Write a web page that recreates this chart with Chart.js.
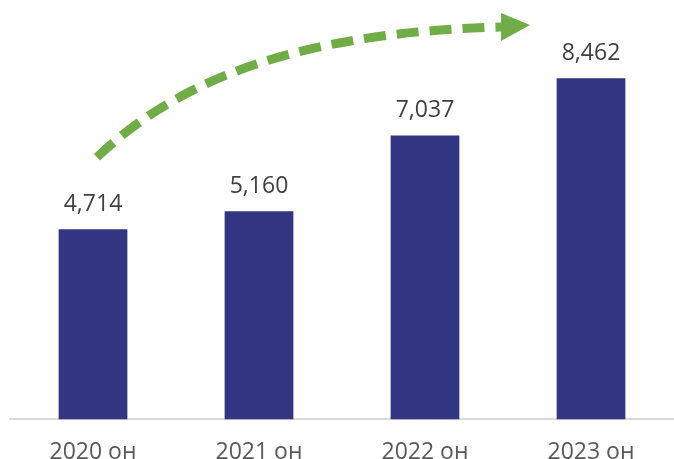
<!DOCTYPE html>
<html lang="mn">
<head>
    <meta charset="UTF-8">
    <title>2020-2023 он</title>
    <style>
        body {
            margin: 0;
            padding: 0;
            background: #ffffff;
        }
        #chart-container {
            width: 674px;
            height: 459px;
        }
    </style>
</head>
<body>
    <div id="chart-container">
        <canvas id="barChart"></canvas>
    </div>

    <script src="https://cdn.jsdelivr.net/npm/chart.js"></script>
    <script>
        const categories = ['2020 он', '2021 он', '2022 он', '2023 он'];
        const values = [4714, 5160, 7037, 8462];

        const fontFamily = '"Open Sans", Lato, sans-serif';

        // 棒の上に数値を表示
        const valueLabels = {
            id: 'valueLabels',
            afterDatasetsDraw(chart) {
                const ctx = chart.ctx;
                const meta = chart.getDatasetMeta(0);
                ctx.save();
                ctx.font = '23px ' + fontFamily;
                ctx.fillStyle = '#404040';
                ctx.textAlign = 'center';
                ctx.textBaseline = 'middle';
                meta.data.forEach((bar, i) => {
                    ctx.fillText(values[i].toLocaleString('en-US'), bar.x, bar.y - 25);
                });
                ctx.restore();
            }
        };

        // 緑の破線矢印
        const growthArrow = {
            id: 'growthArrow',
            afterDraw(chart) {
                const ctx = chart.ctx;
                const meta = chart.getDatasetMeta(0);
                const first = meta.data[0];
                const last = meta.data[meta.data.length - 1];
                const top = chart.chartArea.top;

                const x0 = first.x + 4, y0 = first.y - 72;
                const x3 = last.x - 90, y3 = top + 27;
                const x1 = x0 + (x3 - x0) * 0.22, y1 = top + 72;
                const x2 = x0 + (x3 - x0) * 0.54, y2 = top + 32;

                ctx.save();
                ctx.strokeStyle = '#70AD47';
                ctx.fillStyle = '#70AD47';
                ctx.lineWidth = 9;
                ctx.setLineDash([22, 11]);
                ctx.beginPath();
                ctx.moveTo(x0, y0);
                ctx.bezierCurveTo(x1, y1, x2, y2, x3, y3);
                ctx.stroke();

                ctx.setLineDash([]);
                ctx.beginPath();
                ctx.moveTo(x3, top + 13);
                ctx.lineTo(x3 + 29, top + 25);
                ctx.lineTo(x3, top + 41);
                ctx.closePath();
                ctx.fill();
                ctx.restore();
            }
        };

        const ctx = document.getElementById('barChart').getContext('2d');
        new Chart(ctx, {
            type: 'bar',
            data: {
                labels: categories,
                datasets: [{
                    data: values,
                    backgroundColor: '#323582',
                    barPercentage: 0.414,
                    categoryPercentage: 1.0
                }]
            },
            options: {
                responsive: true,
                maintainAspectRatio: false,
                animation: false,
                layout: {
                    padding: { left: 10, right: -4, top: 0, bottom: -26 }
                },
                plugins: {
                    legend: { display: false },
                    tooltip: { enabled: false }
                },
                scales: {
                    x: {
                        grid: { display: false, drawTicks: false },
                        border: { display: true, color: '#d9d9d9', width: 2 },
                        ticks: {
                            padding: 19,
                            color: '#595959',
                            font: { family: fontFamily, size: 23 }
                        }
                    },
                    y: {
                        display: false,
                        min: 0,
                        max: 10400
                    }
                }
            },
            plugins: [valueLabels, growthArrow]
        });
    </script>
</body>
</html>
